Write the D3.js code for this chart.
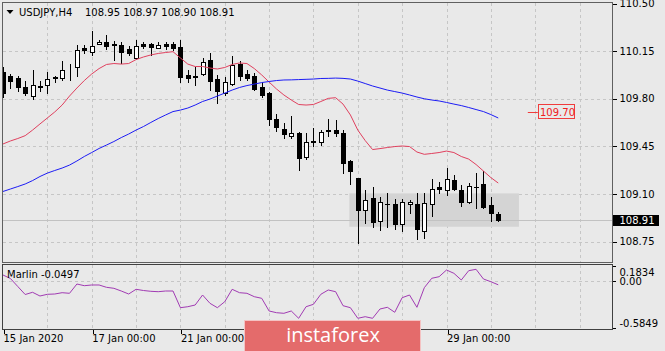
<!DOCTYPE html>
<html>
<head>
<meta charset="utf-8">
<script src="https://cdn.jsdelivr.net/npm/d3@7"></script>
<style>
html, body { margin: 0; padding: 0; background: #e9e9e9; }
svg { display: block; font-family: "DejaVu Sans", sans-serif; font-size: 10px; }
</style>
</head>
<body>
<svg id="chart" width="665" height="351"></svg>
<script>
// USDJPY H4 candles, 15 Jan 2020 00:00 onwards (one bar per 4 hours)
const symbol = "USDJPY,H4";
const opens  = [110.00,109.97,109.95,109.89,109.82,109.89,109.90,109.95,109.95,110.03,110.03,110.17,110.145,110.205,110.22,110.20,110.195,110.165,110.10,110.20,110.20,110.175,110.20,110.20,110.18,109.975,109.96,109.98,110.085,109.945,109.845,109.905,110.055,109.98,109.97,109.89,109.845,109.655,109.58,109.53,109.55,109.375,109.49,109.485,109.57,109.57,109.545,109.34,109.215,108.98,109.07,108.905,109.03,109.03,108.88,109.025,109.03,108.83,109.03,109.155,109.13,109.20,109.13,109.045,109.155,109.175,109.02,108.95];
const highs  = [110.03,109.98,109.97,109.93,110.01,109.93,110.00,109.965,110.08,110.055,110.195,110.195,110.30,110.235,110.27,110.225,110.22,110.19,110.235,110.22,110.21,110.22,110.22,110.22,110.235,110.01,110.03,110.10,110.135,109.975,109.96,110.115,110.08,110.015,109.99,109.925,109.85,109.69,109.625,109.675,109.555,109.545,109.585,109.57,109.65,109.645,109.57,109.35,109.22,109.13,109.15,109.08,109.11,109.065,109.065,109.055,109.11,109.105,109.21,109.19,109.29,109.24,109.165,109.18,109.255,109.27,109.075,108.97];
const lows   = [109.81,109.88,109.86,109.83,109.80,109.86,109.845,109.92,109.94,109.94,109.97,110.135,110.12,110.20,110.165,110.085,110.06,110.125,110.09,110.175,110.12,110.17,110.165,110.16,109.92,109.925,109.90,109.975,109.865,109.77,109.83,109.90,109.94,109.94,109.865,109.815,109.61,109.565,109.51,109.51,109.275,109.355,109.45,109.46,109.525,109.525,109.255,109.175,108.74,108.885,108.86,108.835,108.86,108.84,108.83,108.96,108.77,108.775,108.94,109.105,109.09,109.13,109.015,109.035,109.00,108.995,108.905,108.90];
const closes = [109.84,109.93,109.89,109.84,109.90,109.895,109.945,109.96,110.01,110.035,110.16,110.155,110.19,110.22,110.19,110.195,110.145,110.14,110.19,110.19,110.18,110.195,110.185,110.17,109.96,109.95,109.965,110.07,109.93,109.855,109.92,110.05,109.97,109.955,109.875,109.83,109.655,109.59,109.54,109.545,109.365,109.48,109.48,109.555,109.565,109.545,109.325,109.27,108.985,109.06,108.895,109.04,109.025,108.88,109.04,109.045,108.84,109.035,109.135,109.135,109.21,109.14,109.04,109.16,109.15,109.005,108.96,108.91];

// moving averages (red = fast, blue = slow)
const redMA  = [109.468,109.490,109.508,109.529,109.570,109.615,109.659,109.703,109.754,109.820,109.879,109.934,109.982,110.022,110.052,110.059,110.055,110.059,110.088,110.107,110.122,110.133,110.140,110.146,110.100,110.055,110.037,110.037,110.026,110.019,110.030,110.052,110.063,110.059,110.022,109.975,109.923,109.872,109.828,109.791,109.758,109.754,109.758,109.780,109.803,109.808,109.761,109.681,109.570,109.493,109.427,109.434,109.442,109.449,109.453,109.449,109.409,109.392,109.398,109.405,109.416,109.405,109.376,109.357,109.317,109.269,109.221,109.181];
const blueMA = [109.119,109.137,109.155,109.174,109.199,109.229,109.254,109.273,109.291,109.313,109.343,109.376,109.405,109.435,109.460,109.486,109.515,109.541,109.570,109.596,109.626,109.655,109.681,109.706,109.717,109.732,109.754,109.780,109.798,109.820,109.842,109.864,109.883,109.897,109.908,109.919,109.927,109.934,109.938,109.939,109.941,109.943,109.945,109.949,109.950,109.952,109.950,109.945,109.930,109.912,109.894,109.879,109.864,109.853,109.842,109.828,109.813,109.800,109.791,109.784,109.773,109.761,109.750,109.736,109.721,109.706,109.684,109.659];

// Marlin oscillator (lower pane)
const marlin = [0.0719,0.0285,-0.0706,-0.1698,-0.1425,-0.1884,-0.1673,-0.1636,-0.1475,-0.1549,-0.0397,-0.0607,-0.0520,-0.0520,-0.0806,-0.0929,-0.1264,-0.1636,-0.1053,-0.1202,-0.1301,-0.1351,-0.1264,-0.1264,-0.3333,-0.3210,-0.2999,-0.1760,-0.2788,-0.3333,-0.2590,-0.1053,-0.1475,-0.1549,-0.1970,-0.2169,-0.3742,-0.3953,-0.4027,-0.3742,-0.4647,-0.3210,-0.2912,-0.1673,-0.1140,-0.1351,-0.3086,-0.3333,-0.4647,-0.4449,-0.4647,-0.3495,-0.3284,-0.3903,-0.2094,-0.1760,-0.3284,-0.0855,0.0310,0.0508,0.1338,0.0929,0.0099,0.1252,0.1425,0.0223,-0.0112,-0.0497];
const marlinRange = [-0.5849, 0.1834];
const marlinTicks = [0.1834, 0, -0.5849];

// axis labels
const priceTicks = [110.50, 110.15, 109.80, 109.45, 109.10, 108.75];
const dateTickIdx = [0, 12, 24, 60];
const dateLabels = ["15 Jan 2020", "17 Jan 00:00", "21 Jan 00:00", "29 Jan 00:00"];

// annotations
const bidPrice = 108.91;
const targetPrice = 109.70, targetFrom = 71.0, targetBox = 72.35;
const zoneTop = 109.105, zoneBottom = 108.86, zoneFrom = 46.85, zoneTo = 69.8;

// plain hyphen minus, like the terminal prints it
const fmt = p => v => d3.format(p)(v).replace("\u2212", "-");
const f2 = fmt(".2f"), f4 = fmt(".4f");

const svg = d3.select("#chart");
const L = 2.5, R = 612.5, T = 2.5, MB = 262.5, ST = 264.5, SB = 329.5;

svg.append("rect").attr("width", 665).attr("height", 351).attr("fill", "#e9e9e9");

// one day = 6 bars = 44.35 px
const x = d3.scaleLinear().domain([0, 6]).range([3, 47.35]);
const y = d3.scaleLinear().domain([108.75, 110.50]).range([241.7, 3.5]);
const ys = d3.scaleLinear().domain(marlinRange).range([328, 266]);

const defs = svg.append("defs");
defs.append("clipPath").attr("id", "clipMain").append("rect")
  .attr("x", L + 0.5).attr("y", T + 0.5).attr("width", R - L - 1).attr("height", MB - T - 1);
defs.append("clipPath").attr("id", "clipSub").append("rect")
  .attr("x", L + 0.5).attr("y", ST + 0.5).attr("width", R - L - 1).attr("height", SB - ST - 1);

const main = svg.append("g").attr("clip-path", "url(#clipMain)");
const sub = svg.append("g").attr("clip-path", "url(#clipSub)");

// grids
const dayIdx = d3.range(6, 90, 6).filter(i => x(i) < R);
[main, sub].forEach((g, k) => {
  g.append("g").selectAll("line").data(dayIdx).join("line")
    .attr("x1", d => Math.round(x(d)) + 0.5).attr("x2", d => Math.round(x(d)) + 0.5)
    .attr("y1", k ? ST : T).attr("y2", k ? SB : MB)
    .attr("stroke", "#c6c6c6").attr("stroke-dasharray", "3,3").attr("shape-rendering", "crispEdges");
});
main.append("g").selectAll("line").data(priceTicks.slice(1)).join("line")
  .attr("x1", L).attr("x2", R)
  .attr("y1", d => Math.round(y(d)) + 0.5).attr("y2", d => Math.round(y(d)) + 0.5)
  .attr("stroke", "#c6c6c6").attr("stroke-dasharray", "3,3").attr("shape-rendering", "crispEdges");
sub.append("line").attr("x1", L).attr("x2", R)
  .attr("y1", Math.round(ys(0)) + 0.5).attr("y2", Math.round(ys(0)) + 0.5)
  .attr("stroke", "#c6c6c6").attr("stroke-dasharray", "3,3").attr("shape-rendering", "crispEdges");

// consolidation zone
main.append("rect")
  .attr("x", x(zoneFrom)).attr("width", x(zoneTo) - x(zoneFrom))
  .attr("y", y(zoneTop)).attr("height", y(zoneBottom) - y(zoneTop))
  .attr("fill", "#d4d4d4");

// bid line
main.append("line").attr("x1", L).attr("x2", R)
  .attr("y1", Math.round(y(bidPrice)) + 0.5).attr("y2", Math.round(y(bidPrice)) + 0.5)
  .attr("stroke", "#c2c2c2").attr("shape-rendering", "crispEdges");

// candles
const candles = opens.map((o, i) => ({ i, o, h: highs[i], l: lows[i], c: closes[i] }));
const cg = main.append("g").attr("shape-rendering", "crispEdges");
cg.selectAll("line").data(candles).join("line")
  .attr("x1", d => Math.round(x(d.i)) + 0.5).attr("x2", d => Math.round(x(d.i)) + 0.5)
  .attr("y1", d => Math.round(y(d.h))).attr("y2", d => Math.round(y(d.l)) + 1)
  .attr("stroke", "#000");
cg.selectAll("rect").data(candles).join("rect")
  .each(function(d) {
    const cx = Math.round(x(d.i));
    const top = Math.round(y(Math.max(d.o, d.c)));
    const bot = Math.round(y(Math.min(d.o, d.c)));
    const r = d3.select(this);
    if (d.c >= d.o) {
      r.attr("x", cx - 1.5).attr("width", 4).attr("y", top + 0.5).attr("height", Math.max(0, bot - top))
        .attr("fill", "#fff").attr("stroke", "#000");
    } else {
      r.attr("x", cx - 2).attr("width", 5).attr("y", top).attr("height", Math.max(1, bot - top + 1))
        .attr("fill", "#000");
    }
  });

// moving averages
const line = d3.line().x((d, i) => x(i)).y(d => y(d));
main.append("path").datum(redMA).attr("d", line).attr("fill", "none").attr("stroke", "#e0405e").attr("stroke-width", 1);
main.append("path").datum(blueMA).attr("d", line).attr("fill", "none").attr("stroke", "#1c1cf5").attr("stroke-width", 1);

// target label 109.70
const ty = y(targetPrice);
main.append("line").attr("x1", x(targetFrom)).attr("x2", x(targetBox))
  .attr("y1", Math.round(ty) + 0.5).attr("y2", Math.round(ty) + 0.5).attr("stroke", "#f03c3c");
main.append("rect").attr("x", Math.round(x(targetBox)) + 0.5).attr("y", Math.round(ty) - 7.5)
  .attr("width", 36).attr("height", 14).attr("fill", "none").attr("stroke", "#f03c3c");
main.append("text").attr("x", Math.round(x(targetBox)) + 2).attr("y", ty + 4)
  .attr("fill", "#f02020").text(f2(targetPrice));

// marlin line
sub.append("path").datum(marlin)
  .attr("d", d3.line().x((d, i) => x(i)).y(d => ys(d)))
  .attr("fill", "none").attr("stroke", "#a13bb3").attr("stroke-width", 1);

// pane borders
svg.append("rect").attr("x", L).attr("y", T).attr("width", R - L).attr("height", MB - T)
  .attr("fill", "none").attr("stroke", "#606060").attr("shape-rendering", "crispEdges");
svg.append("rect").attr("x", L).attr("y", ST).attr("width", R - L).attr("height", SB - ST)
  .attr("fill", "none").attr("stroke", "#404040").attr("shape-rendering", "crispEdges");

// right price axis
const ax = svg.append("g").attr("transform", `translate(${R},0)`)
  .call(d3.axisRight(y).tickValues(priceTicks).tickSize(4).tickPadding(3).tickFormat(f2));
ax.select(".domain").remove();
ax.selectAll("line").attr("stroke", "#000").attr("shape-rendering", "crispEdges");
ax.selectAll("text").attr("fill", "#000").style("font-family", "DejaVu Sans").style("font-size", "10px");

// bid tag
const by = y(bidPrice);
svg.append("rect").attr("x", 613).attr("y", Math.round(by) - 5).attr("width", 46).attr("height", 11).attr("fill", "#000");
svg.append("text").attr("x", 619.5).attr("y", by + 4).attr("fill", "#fff").text(f2(bidPrice));

// marlin axis
const axs = svg.append("g").attr("transform", `translate(${R},0)`)
  .call(d3.axisRight(ys).tickValues(marlinTicks).tickSize(3).tickPadding(4)
    .tickFormat(d => d === 0 ? "0.00" : f4(d)));
axs.select(".domain").remove();
axs.selectAll("line").attr("stroke", "#000").attr("shape-rendering", "crispEdges");
axs.selectAll("text").attr("fill", "#000").style("font-family", "DejaVu Sans").style("font-size", "10px")
  .attr("dy", d => d === marlinTicks[0] ? "0.95em" : d === marlinTicks[2] ? "-0.15em" : "0.4em");

// date axis
const axb = svg.append("g").attr("transform", `translate(0,${SB})`)
  .call(d3.axisBottom(x).tickValues(dateTickIdx).tickSize(4).tickPadding(1)
    .tickFormat((d, i) => dateLabels[i]));
axb.select(".domain").remove();
axb.selectAll("line").attr("stroke", "#000").attr("transform", d => `translate(${Math.round(x(d)) + 0.5 - x(d)},0)`)
  .attr("shape-rendering", "crispEdges");
axb.selectAll("text").attr("text-anchor", "start").attr("fill", "#000")
  .style("font-family", "DejaVu Sans").style("font-size", "10px");

// titles
svg.append("path").attr("d", "M6.5,10 L13.5,10 L10,14 Z").attr("fill", "#000");
svg.append("text").attr("x", 19).attr("y", 16).attr("fill", "#000").text(symbol);
const last = candles[candles.length - 1];
svg.append("text").attr("x", 85).attr("y", 16).attr("fill", "#000")
  .text([last.o, last.h, last.l, last.c].map(f2).join(" "));
svg.append("text").attr("x", 7).attr("y", 277.5).attr("fill", "#000")
  .text("Marlin " + f4(marlin[marlin.length - 1]));

// watermark
svg.append("rect").attr("x", 244.5).attr("y", 320.5).attr("width", 176).attr("height", 33)
  .attr("fill", "#e46b6b").attr("stroke", "#f4c2c2");
svg.append("text").attr("x", 333).attr("y", 342).attr("text-anchor", "middle")
  .attr("fill", "#fff").style("font-family", "'Open Sans', sans-serif").style("font-size", "20px")
  .text("instaforex");
</script>
</body>
</html>
